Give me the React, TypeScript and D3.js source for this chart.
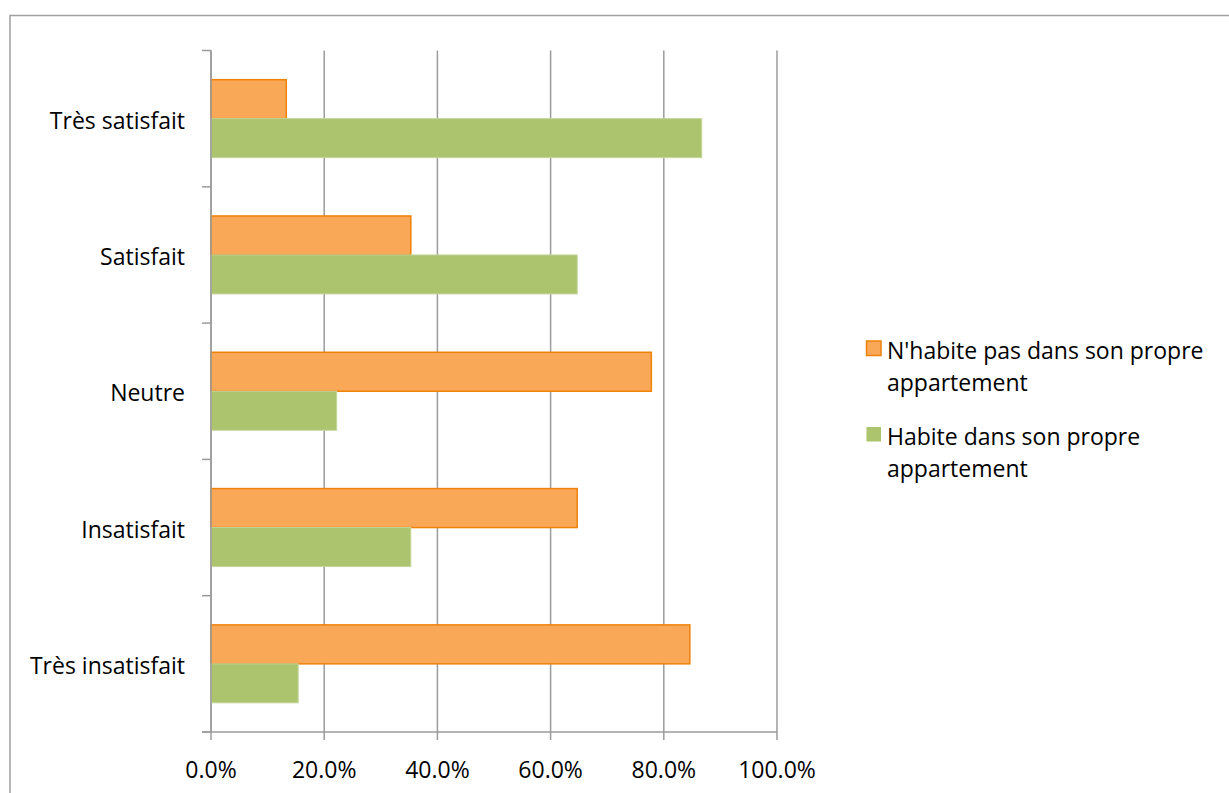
import React from "react";
import * as d3 from "d3";

const categories = ["Très satisfait", "Satisfait", "Neutre", "Insatisfait", "Très insatisfait"];
const seriesNames = ["N'habite pas dans son propre appartement", "Habite dans son propre appartement"];
const notOwn = [13.3, 35.3, 77.8, 64.7, 84.6];
const own = [86.7, 64.7, 22.2, 35.3, 15.4];
const xTicks = [0, 20, 40, 60, 80, 100];
const legendLines = [["N'habite pas dans son propre", "appartement"], ["Habite dans son propre", "appartement"]];

const W = 1229, H = 793;
const FONT = "'Open Sans', sans-serif";
const GRID = "#9b9b9b";
const fills = ["#F9A857", "#ABC46D"];
const strokes = ["#EE820A", "#C3D69B"];

export default function App() {
  const x = d3.scaleLinear().domain([0, 100]).range([211, 777]);
  const y = d3.scaleBand<string>().domain(categories).range([50.5, 732]).paddingInner(0.428).paddingOuter(0.214);
  const inner = d3.scaleBand<number>().domain([0, 1]).range([0, y.bandwidth()]);
  const seriesVals = [notOwn, own];
  const step = y.step();
  const boundaries = d3.range(categories.length + 1).map((i) => 50.5 + i * step);

  return (
    <svg width={W} height={H} style={{ position: "absolute", left: 0, top: 0, background: "#fff" }}>
      <rect x={10} y={15.5} width={1240} height={800} fill="#fff" stroke="#a0a0a0" strokeWidth={1.5} />
      {xTicks.map((t) => (
        <g key={t}>
          <line x1={x(t)} x2={x(t)} y1={50.5} y2={740} stroke={GRID} strokeWidth={1.5} />
          <text x={x(t)} y={778} textAnchor="middle" fontFamily={FONT} fontSize={23} fill="#000">
            {d3.format(".1f")(t) + "%"}
          </text>
        </g>
      ))}
      {boundaries.map((b, i) => (
        <line key={i} x1={202} x2={211} y1={b} y2={b} stroke={GRID} strokeWidth={1.5} />
      ))}
      <line x1={202} x2={777} y1={732} y2={732} stroke={GRID} strokeWidth={1.5} />
      {categories.map((c, ci) => (
        <g key={c}>
          {seriesVals.map((vals, si) => (
            <rect
              key={si}
              x={x(0)}
              y={(y(c) as number) + (inner(si) as number)}
              width={x(vals[ci]) - x(0)}
              height={inner.bandwidth()}
              fill={fills[si]}
              stroke={strokes[si]}
              strokeWidth={si === 0 ? 1.5 : 1}
            />
          ))}
          <text x={185} y={(y(c) as number) + y.bandwidth() / 2 + 10} textAnchor="end" fontFamily={FONT} fontSize={23} fill="#000">
            {c}
          </text>
        </g>
      ))}
      <line x1={211} x2={211} y1={50.5} y2={732} stroke={GRID} strokeWidth={1.5} />
      {seriesNames.map((s, si) => {
        const top = si === 0 ? 341 : 427;
        return (
          <g key={s}>
            <rect x={866.5} y={top} width={14.5} height={14.5} fill={fills[si]} stroke={strokes[si]} strokeWidth={si === 0 ? 1.5 : 0} />
            {legendLines[si].map((ln, li) => (
              <text key={li} x={887} y={top + 18 + li * 31.5} fontFamily={FONT} fontSize={23} fill="#000">
                {ln}
              </text>
            ))}
          </g>
        );
      })}
    </svg>
  );
}
